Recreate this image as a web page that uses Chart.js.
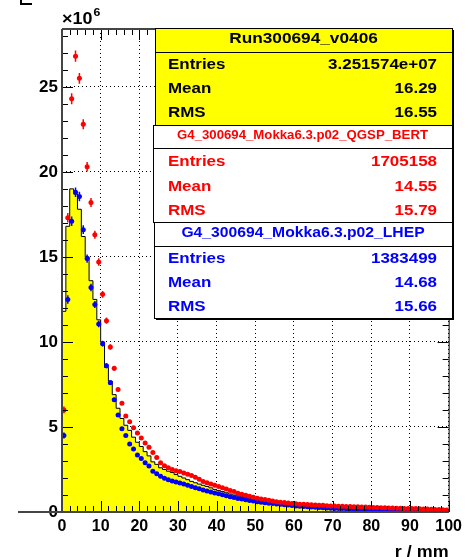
<!DOCTYPE html>
<html><head><meta charset="utf-8">
<script src="https://cdn.jsdelivr.net/npm/chart.js@4/dist/chart.umd.min.js"></script>
<style>html,body{margin:0;padding:0;background:#fff;overflow:hidden}</style>
</head><body><canvas id="c" width="467" height="557"></canvas>
<script>
// ---- data (y in units of 10^6) ----
const rEdges = [0,1,2,3,4,5,6,7,8,9,10,11,12,13,14,15,16,17,18,19,20,21,22,23,24,25,26,27,28,29,30,31,32,33,34,35,36,37,38,39,40,41,42,43,44,45,46,47,48,49,50,51,52,53,54,55,56,57,58,59,60,61,62,63,64,65,66,67,68,69,70,71,72,73,74,75,76,77,78,79,80,81,82,83,84,85,86,87,88,89,90,91,92,93,94,95,96,97,98,99,100];
const dataRun = [4.5,11.8,16.8,19.0,18.7,17.8,16.2,15.0,13.6,12.5,
11.3,10.0,8.5,7.7,6.9,6.1,5.5,5.1,4.8,4.4,
4.1,3.85,3.55,3.3,2.95,2.8,2.6,2.5,2.4,2.32,
2.2,2.1,2.0,1.9,1.8,1.72,1.64,1.57,1.5,1.42,
1.33,1.26,1.2,1.13,1.06,1.0,0.95,0.9,0.84,0.78,
0.73,0.68,0.64,0.61,0.58,0.55,0.53,0.51,0.5,0.48,
0.47,0.45,0.42,0.39,0.36,0.33,0.31,0.28,0.25,0.22,
0.2,0.18,0.17,0.16,0.15,0.15,0.14,0.12,0.11,0.1,
0.1,0.09,0.09,0.08,0.08,0.08,0.07,0.07,0.07,0.06,
0.06,0.06,0.05,0.05,0.05,0.05,0.04,0.04,0.04,0.04];
const qgspBert = [6.0,17.3,24.3,26.8,25.5,22.8,20.3,18.2,16.3,14.7,
12.8,11.25,9.7,8.45,7.2,6.4,5.65,5.3,4.95,4.65,
4.35,4.05,3.8,3.5,3.2,2.9,2.72,2.6,2.5,2.43,
2.38,2.3,2.22,2.14,2.05,1.92,1.8,1.72,1.64,1.57,
1.5,1.42,1.35,1.27,1.2,1.1,1.05,0.98,0.92,0.86,
0.81,0.77,0.73,0.69,0.65,0.61,0.58,0.56,0.53,0.5,
0.48,0.46,0.45,0.44,0.42,0.41,0.4,0.39,0.37,0.36,
0.35,0.34,0.34,0.33,0.32,0.31,0.31,0.3,0.29,0.28,
0.27,0.26,0.25,0.25,0.24,0.23,0.22,0.22,0.21,0.21,
0.2,0.2,0.19,0.18,0.17,0.16,0.15,0.14,0.13,0.12];
const lhep = [4.5,12.5,17.1,18.8,18.55,16.6,14.9,13.2,12.2,11.06,
9.9,8.6,7.6,6.6,5.7,4.9,4.5,4.0,3.7,3.35,
3.15,2.9,2.7,2.4,2.25,2.1,1.98,1.9,1.82,1.76,
1.7,1.65,1.58,1.5,1.43,1.36,1.3,1.24,1.17,1.11,
1.08,1.02,0.96,0.9,0.85,0.8,0.76,0.72,0.68,0.64,
0.61,0.58,0.55,0.52,0.5,0.47,0.45,0.43,0.41,0.38,
0.36,0.34,0.33,0.31,0.29,0.28,0.27,0.25,0.24,0.22,
0.21,0.2,0.2,0.19,0.19,0.18,0.18,0.17,0.16,0.15,
0.14,0.14,0.13,0.13,0.12,0.12,0.12,0.11,0.11,0.11,
0.1,0.1,0.09,0.09,0.08,0.08,0.07,0.06,0.05,0.04];
const qgspErr = [0.2,0.28,0.32,0.33,0.32,0.3,0.28,0.26,0.24,0.22,0.2,0.18,0.16,0.14,0.12,0.1];
const lhepErr = [0.18,0.25,0.28,0.28,0.28,0.26,0.24,0.22,0.2,0.19,0.17,0.15,0.13,0.12,0.1,0.09];

const statTitles  = ['Run300694_v0406','G4_300694_Mokka6.3.p02_QGSP_BERT','G4_300694_Mokka6.3.p02_LHEP'];
const statEntries = ['3.251574e+07','1705158','1383499'];
const statMeans   = ['16.29','14.55','14.68'];
const statRMS     = ['16.55','15.79','15.66'];
const xTitle = 'r / mm';
const yExponent = '6';

// ---- build ----
const FONT = '"Liberation Sans", Arial, Helvetica, sans-serif';
const histPts = [{x: rEdges[0], y: 0}];
for (let i = 0; i < dataRun.length; i++) histPts.push({x: rEdges[i], y: dataRun[i]});
histPts.push({x: rEdges[dataRun.length], y: dataRun[dataRun.length - 1]});
histPts.push({x: rEdges[dataRun.length], y: 0});
const centers = dataRun.map((_, i) => (rEdges[i] + rEdges[i + 1]) / 2);
const redPts = qgspBert.map((v, i) => ({x: centers[i], y: v}));
const bluePts = lhep.map((v, i) => ({x: centers[i], y: v}));

function txt(ctx, s, x, y, size, color, align, sx, base) {
  ctx.save();
  ctx.font = 'bold ' + size + 'px ' + FONT;
  ctx.fillStyle = color;
  ctx.textBaseline = base || 'middle';
  ctx.textAlign = 'left';
  const w = ctx.measureText(s).width * sx;
  const x0 = align === 'left' ? x : (align === 'right' ? x - w : x - w / 2);
  ctx.translate(x0, y);
  ctx.scale(sx, 1);
  ctx.fillText(s, 0, 0);
  ctx.restore();
}

const errorBars = {
  id: 'errorBars',
  afterDatasetDraw(chart, args) {
    const ds = chart.data.datasets[args.index];
    if (!ds.errY) return;
    const {ctx, scales: {x, y}} = chart;
    ctx.save();
    ctx.strokeStyle = ds.borderColor;
    ctx.lineWidth = 1.5;
    ctx.beginPath();
    ds.data.forEach((p, i) => {
      const py = y.getPixelForValue(p.y);
      const xl = x.getPixelForValue(rEdges[i]), xr = x.getPixelForValue(rEdges[i + 1]);
      ctx.moveTo(xl, py); ctx.lineTo(xr, py);
      const e = ds.errY[i] || 0;
      if (e > 0) {
        const px = x.getPixelForValue(p.x);
        ctx.moveTo(px, y.getPixelForValue(p.y - e));
        ctx.lineTo(px, y.getPixelForValue(p.y + e));
      }
    });
    ctx.stroke();
    ctx.restore();
  }
};

const rootAxes = {
  id: 'rootAxes',
  afterDatasetsDraw(chart) {
    const {ctx, chartArea: a, scales: {x, y}} = chart;
    ctx.save();
    ctx.strokeStyle = '#000';
    ctx.lineWidth = 1;
    ctx.beginPath();
    for (let v = 0; v <= 100; v += 2) {
      const px = Math.round(x.getPixelForValue(v)) + 0.5;
      const L = v % 10 === 0 ? 11 : 6;
      ctx.moveTo(px, a.bottom); ctx.lineTo(px, a.bottom - L);
      ctx.moveTo(px, a.top); ctx.lineTo(px, a.top + L);
    }
    for (let v = 0; v <= 28; v += 1) {
      const py = Math.round(y.getPixelForValue(v)) + 0.5;
      const L = v % 5 === 0 ? 11 : 6;
      ctx.moveTo(a.left, py); ctx.lineTo(a.left + L, py);
      ctx.moveTo(a.right, py); ctx.lineTo(a.right - L, py);
    }
    ctx.stroke();
    // right frame
    ctx.beginPath();
    ctx.moveTo(a.right + 0.5, a.top); ctx.lineTo(a.right + 0.5, a.bottom);
    ctx.stroke();
    // top, left, bottom axis lines
    ctx.strokeStyle = '#444';
    ctx.lineWidth = 2;
    ctx.beginPath();
    ctx.moveTo(a.left, a.top); ctx.lineTo(a.right, a.top);
    ctx.moveTo(a.left, a.top); ctx.lineTo(a.left, a.bottom);
    ctx.moveTo(18, a.bottom); ctx.lineTo(a.right, a.bottom);
    ctx.stroke();
    ctx.restore();
  },
  afterDraw(chart) {
    const {ctx, chartArea: a} = chart;
    ctx.save();
    // small corner mark at top-left
    ctx.strokeStyle = '#000'; ctx.lineWidth = 2;
    ctx.beginPath(); ctx.moveTo(21, 0); ctx.lineTo(21, 4); ctx.lineTo(32, 4); ctx.stroke();
    // exponent label
    txt(ctx, '\u00d710', a.left, 20, 16, '#000', 'left', 1.12);
    ctx.font = 'bold 16px ' + FONT;
    const w10 = ctx.measureText('\u00d710').width * 1.12;
    txt(ctx, yExponent, a.left + w10 + 1, 13, 11, '#000', 'left', 1.12);
    // x title
    txt(ctx, xTitle, a.right, 557, 16, '#000', 'right', 1.12, 'alphabetic');

    // stat boxes
    const boxes = [
      {x0: 155, y0: 28, y1: 125, div: 52, fill: '#ffff00', color: '#000', ts: 15, tsx: 1.15, ty: 38.5, rows: [65, 88.5, 112.5]},
      {x0: 153, y0: 125, y1: 222, div: 148, fill: '#ffffff', color: '#ff0000', ts: 12, tsx: 1.1, ty: 136, rows: [161.5, 187, 210.5]},
      {x0: 154, y0: 222, y1: 318, div: 246, fill: '#ffffff', color: '#0000ff', ts: 14, tsx: 1.12, ty: 233, rows: [258.5, 282.5, 306.5]}
    ];
    const x1 = 452;
    boxes.forEach((b, i) => {
      ctx.fillStyle = '#000';
      ctx.fillRect(x1, b.y0 + 2, 2, b.y1 - b.y0);
      ctx.fillRect(b.x0 + 2, b.y1, x1 - b.x0, 2);
      ctx.fillStyle = b.fill;
      ctx.fillRect(b.x0, b.y0, x1 - b.x0, b.y1 - b.y0);
      ctx.strokeStyle = '#000'; ctx.lineWidth = 1;
      ctx.strokeRect(b.x0 + 0.5, b.y0 + 0.5, x1 - b.x0, b.y1 - b.y0);
      ctx.beginPath(); ctx.moveTo(b.x0, b.div + 0.5); ctx.lineTo(x1, b.div + 0.5); ctx.stroke();
      txt(ctx, statTitles[i], (b.x0 + x1) / 2, b.ty, b.ts, b.color, 'center', b.tsx);
      const labels = ['Entries', 'Mean', 'RMS'];
      const vals = [statEntries[i], statMeans[i], statRMS[i]];
      for (let k = 0; k < 3; k++) {
        txt(ctx, labels[k], 168, b.rows[k], 15, b.color, 'left', 1.13);
        txt(ctx, vals[k], 437, b.rows[k], 15, b.color, 'right', 1.13);
      }
    });
    ctx.restore();
  }
};

new Chart(document.getElementById('c'), {
  type: 'scatter',
  data: {
    datasets: [
      {type: 'line', label: 'Run300694_v0406', data: histPts, stepped: 'after', fill: 'origin',
       backgroundColor: '#ffff00', borderColor: '#000', borderWidth: 1, pointRadius: 0, order: 3},
      {label: 'LHEP', data: bluePts, errY: lhepErr, backgroundColor: '#0000ff', borderColor: '#0000ff',
       pointRadius: 2.5, borderWidth: 0, order: 2},
      {label: 'QGSP_BERT', data: redPts, errY: qgspErr, backgroundColor: '#ff0000', borderColor: '#ff0000',
       pointRadius: 2.5, borderWidth: 0, order: 1}
    ]
  },
  options: {
    responsive: false,
    animation: false,
    events: [],
    layout: {padding: {top: 29, right: 15, left: 0, bottom: 0}},
    plugins: {legend: {display: false}, tooltip: {enabled: false}},
    scales: {
      x: {
        type: 'linear', min: 0, max: 100,
        afterFit(s) { s.height = 45; },
        ticks: {stepSize: 10, padding: 5, maxRotation: 0, color: '#000',
                font: {family: FONT, size: 16, weight: 'bold'}},
        grid: {color: '#000', lineWidth: 1, drawTicks: false},
        border: {display: false, dash: [1, 3]}
      },
      y: {
        type: 'linear', min: 0, max: 28.4,
        afterFit(s) { s.width = 62; },
        ticks: {stepSize: 5, padding: 4, includeBounds: false, color: '#000',
                font: {family: FONT, size: 17, weight: 'bold'}},
        grid: {color: '#000', lineWidth: 1, drawTicks: false},
        border: {display: false, dash: [1, 3]}
      }
    }
  },
  plugins: [errorBars, rootAxes]
});
</script>
</body></html>
